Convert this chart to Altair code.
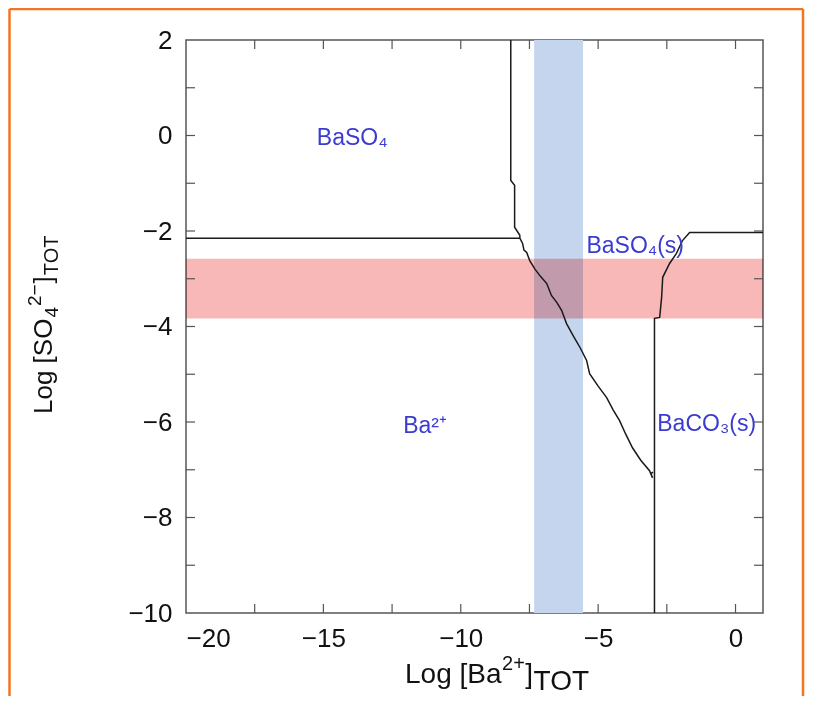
import altair as alt
import pandas as pd

# ---------------- data ----------------
# boundary lines (log Ba_tot, log SO4_tot)
left_h_x = [-20.0, -7.85]
left_h_y = [-2.15, -2.15]

mid_x = [-8.18, -8.18, -8.04, -8.04, -7.85, -7.85, -7.75, -7.70, -7.60, -7.49, -7.30, -7.10,
         -6.87, -6.70, -6.50, -6.33, -6.15, -5.90, -5.65, -5.42, -5.31, -5.00, -4.69,
         -4.45, -4.22, -4.00, -3.75, -3.45, -3.13, -3.02, -3.08, -3.00]
mid_y = [2.00, -0.94, -1.04, -1.92, -2.09, -2.15, -2.26, -2.40, -2.45, -2.62, -2.80, -2.95,
         -3.10, -3.35, -3.50, -3.66, -3.94, -4.20, -4.45, -4.71, -4.99, -5.25, -5.49,
         -5.75, -5.97, -6.25, -6.54, -6.80, -7.02, -7.17, -7.08, -7.05]

right_x = [-2.95, -2.95, -2.76, -2.69, -2.65, -2.40, -2.15, -1.93, -1.67, 1.00]
right_y = [-10.0, -3.83, -3.81, -3.39, -2.97, -2.68, -2.47, -2.20, -2.03, -2.03]

# shaded bands
blue_band = [-7.33, -5.55]     # log [Ba2+]
pink_band = [-3.83, -2.58]     # log [SO4 2-]

# region labels
label_text = ["BaSO\u2084", "BaSO\u2084(s)", "Ba\u00b2\u207a", "BaCO\u2083(s)"]
label_x = [-13.95, -3.65, -11.3, -1.05]
label_y = [-0.05, -2.32, -6.08, -6.05]

# axes
x_domain = [-20, 1]
y_domain = [-10, 2]
x_labels = [-20, -15, -10, -5, 0]
y_labels = [-10, -8, -6, -4, -2, 0, 2]
x_ticks = [-17.5, -15, -12.5, -10, -7.5, -5, -2.5, 0]
y_ticks = [-9, -8, -7, -6, -5, -4, -3, -2, -1, 0, 1]

# ---------------- layout ----------------
W, H = 577, 573
PAD = {"left": 178, "top": 32, "right": 42, "bottom": 83}
OX, OY = 186, 40  # page position of plot origin
FONT = "Liberation Sans"
TICK = 9

rows = []
for name, xs_, ys_ in [("a", left_h_x, left_h_y), ("b", mid_x, mid_y), ("c", right_x, right_y)]:
    for i, (xv, yv) in enumerate(zip(xs_, ys_)):
        rows.append({"path": name, "order": i, "x": xv, "y": yv})
lines_df = pd.DataFrame(rows)

xs = alt.Scale(domain=x_domain, nice=False, zero=False)
ys = alt.Scale(domain=y_domain, nice=False, zero=False)

blue = alt.Chart(pd.DataFrame({"x": [blue_band[0]], "x2": [blue_band[1]]})).mark_rect(
    color="#c6d5ee").encode(x=alt.X("x:Q", scale=xs), x2="x2:Q")
pink = alt.Chart(pd.DataFrame({"y": [pink_band[0]], "y2": [pink_band[1]]})).mark_rect(
    color="#f9b8b8", blend="multiply").encode(y=alt.Y("y:Q", scale=ys), y2="y2:Q")

axis_x = alt.Axis(values=x_labels, ticks=False, domain=False, grid=False, labelFontSize=26,
                  labelFont=FONT, labelColor="#111", labelPadding=12, title=None)
axis_y = alt.Axis(values=y_labels, ticks=False, domain=False, grid=False, labelFontSize=26,
                  labelFont=FONT, labelColor="#111", labelPadding=14, title=None)

lines = alt.Chart(lines_df).mark_line(color="#1a1a1a", strokeWidth=1.5).encode(
    x=alt.X("x:Q", scale=xs, axis=axis_x),
    y=alt.Y("y:Q", scale=ys, axis=axis_y),
    detail="path:N", order="order:Q")

tx = pd.DataFrame({"t": x_ticks})
ty = pd.DataFrame({"t": y_ticks})
tick_col = "#555"
ticks = [
    alt.Chart(tx).mark_rule(color=tick_col, strokeWidth=1.2).encode(
        x=alt.X("t:Q", scale=xs), y=alt.value(H), y2=alt.value(H - TICK)),
    alt.Chart(tx).mark_rule(color=tick_col, strokeWidth=1.2).encode(
        x=alt.X("t:Q", scale=xs), y=alt.value(0), y2=alt.value(TICK)),
    alt.Chart(ty).mark_rule(color=tick_col, strokeWidth=1.2).encode(
        y=alt.Y("t:Q", scale=ys), x=alt.value(0), x2=alt.value(TICK)),
    alt.Chart(ty).mark_rule(color=tick_col, strokeWidth=1.2).encode(
        y=alt.Y("t:Q", scale=ys), x=alt.value(W), x2=alt.value(W - TICK)),
]

labels = alt.Chart(pd.DataFrame({"t": label_text, "x": label_x, "y": label_y})).mark_text(
    color="#3b3bd0", fontSize=23, font=FONT, align="center", baseline="middle").encode(
    x=alt.X("x:Q", scale=xs), y=alt.Y("y:Q", scale=ys), text="t:N")

# Arial-like advance widths (em) for laying out the composed titles
ADV = {"L": .556, "o": .556, "g": .556, " ": .278, "[": .278, "]": .278, "B": .667,
       "a": .556, "S": .667, "O": .778, "T": .611, "2": .556, "+": .584, "\u2212": .584,
       "4": .556}


def width(text, size):
    return sum(ADV[c] for c in text) * size


def piece(text, px, py, size, angle=0):
    kw = dict(fontSize=size, font=FONT, color="#111", align="left", baseline="alphabetic")
    if angle:
        kw["angle"] = angle
    return alt.Chart(pd.DataFrame({"t": [text]})).mark_text(**kw).encode(
        x=alt.value(px - OX), y=alt.value(py - OY), text="t:N")


titles = []
# x-axis title: Log [Ba^{2+}]_{TOT}, laid out left to right
parts_x = [("Log [Ba", 28, 0), ("2+", 20, -13), ("]", 28, 0), ("TOT", 28, 7)]
cx = 405.0
for txt, sz, dy in parts_x:
    titles.append(piece(txt, cx, 683 + dy, sz))
    cx += width(txt, sz) + 0.5
# y-axis title: Log [SO_4^{2-}]_{TOT}, rotated, laid out bottom to top
parts_y = [("Log [SO", 26, 0), ("4", 19, 6), ("2\u2212", 19, -11), ("]", 26, 0), ("TOT", 20, 6)]
cy = 414.0
for txt, sz, dx in parts_y:
    titles.append(piece(txt, 52 + dx, cy, sz, 270))
    cy -= width(txt, sz) + 1.0

# orange frame of the figure
oc = "#ef7622"
frame = [
    alt.Chart(pd.DataFrame({"a": [0]})).mark_rule(color=oc, strokeWidth=2.5).encode(
        x=alt.value(9.5 - OX), y=alt.value(9 - OY), y2=alt.value(H + PAD["bottom"])),
    alt.Chart(pd.DataFrame({"a": [0]})).mark_rule(color=oc, strokeWidth=2.5).encode(
        x=alt.value(9.5 - OX), x2=alt.value(803 - OX), y=alt.value(9 - OY)),
    alt.Chart(pd.DataFrame({"a": [0]})).mark_rule(color=oc, strokeWidth=2.5).encode(
        x=alt.value(803 - OX), y=alt.value(9 - OY), y2=alt.value(H + PAD["bottom"])),
]

chart = alt.layer(blue, pink, lines, *ticks, labels, *titles, *frame).properties(
    width=W, height=H, autosize="none", padding=PAD, background="white"
).configure_view(stroke="#555", strokeWidth=1.5)

chart.save("out.html", embed_options={"renderer": "svg", "actions": False})
